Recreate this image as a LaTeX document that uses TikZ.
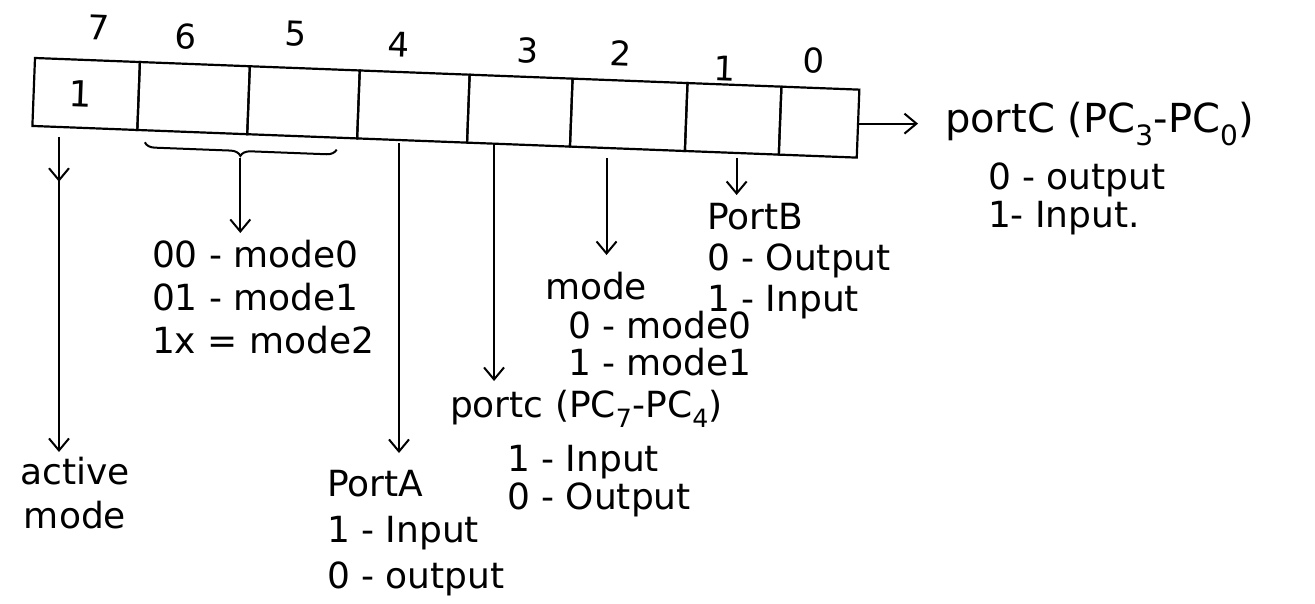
\documentclass[tikz,border=0pt]{standalone}
\usepackage{fontspec}
\setmainfont{DejaVu Sans}
\usetikzlibrary{arrows.meta,decorations.pathreplacing,decorations.markings,calc}

\begin{document}
\begin{tikzpicture}[x=1pt,y=-1pt,
  every node/.style={inner sep=0pt, outer sep=0pt},
  txt/.style={font=\fontsize{36}{44}\selectfont, align=left, anchor=north west},
  cell/.style={draw, line width=2.2pt, minimum height=68pt, anchor=north west,
               font=\fontsize{36}{44}\selectfont},
  bitno/.style={font=\fontsize{34}{40}\selectfont},
  tip/.style={-{Straight Barb[length=12pt,width=20pt]}},
  conn/.style={line width=2pt, tip},
  brc/.style={line width=2pt, decorate,
              decoration={brace, mirror, amplitude=10pt}},
  midtip/.style={postaction={decorate},
     decoration={markings, mark=at position 0.14 with
       {\arrow{Straight Barb[length=12pt,width=20pt]}}}}
  ]
\useasboundingbox (0,0) rectangle (1315,603);

% control word register, bits 7..0, drawn slightly tilted
\begin{scope}[shift={(35,58)}, rotate=-2.2, transform shape]
  \foreach \n/\l/\w/\dx/\dy in {7/0/105/10/-33, 6/105/110/-10/-27,
      5/215/110/-10/-34, 4/325/110/-17/-27, 3/435/103/6/-26,
      2/538/115/-10/-27, 1/653/94/-10/-16, 0/747/78/-8/-27}
  {
    \node[cell, minimum width=\w pt] (c\n) at (\l,0) {};
    \node[bitno] (n\n) at ({\l+\w/2+\dx},\dy) {\n};
  }
  \node[cell, draw=none, minimum width=105pt, xshift=-6pt] (one) at (0,0) {1};
  % group brace under bits 6 and 5
  \draw[brc] (113,80) -- (305,80);
  \coordinate (bt) at (209,92);
  % connector start points below the register
  \coordinate (s7) at (27,78);
  \coordinate (s4) at (367,71);
  \coordinate (s3) at (462,68);
  \coordinate (s2) at (575,78);
  \coordinate (s1) at (705,73);
\end{scope}

% descriptions
\node[txt, align=center, anchor=north] (act) at (75,457) {active\\mode};
\node[txt, font=\fontsize{36}{43}\selectfont] (modes) at (152,240)
  {00 - mode0\\01 - mode1\\1x = mode2};
\node[txt, font=\fontsize{36}{46}\selectfont] (pa) at (327,470)
  {PortA\\1 - Input\\0 - output};
\node[txt] (pc74) at (450,390)
  {portc (PC\textsubscript{7}-PC\textsubscript{4})};
\node[txt, font=\fontsize{36}{38}\selectfont] (pc74v) at (507,445)
  {1 - Input\\0 - Output};
\node[txt] (md) at (545,272) {mode};
\node[txt, font=\fontsize{36}{37}\selectfont] (mdv) at (568,311)
  {0 - mode0\\1 - mode1};
\node[txt, font=\fontsize{36}{41}\selectfont] (pb) at (707,203)
  {PortB\\0 - Output\\1 - Input};
\node[txt, anchor=west, font=\fontsize{40}{44}\selectfont] (pc30) at (945,124)
  {portC (PC\textsubscript{3}-PC\textsubscript{0})};
\node[txt, font=\fontsize{36}{38}\selectfont] (pc30v) at (988,163)
  {0 - output\\1- Input.};

% connectors
\draw[conn, midtip, shorten >=5pt] (s7) -- (s7 |- act.north);
\draw[conn, shorten >=7pt] (bt) -- (bt |- modes.north);
\draw[conn, shorten >=17pt] (s4) -- (s4 |- pa.north);
\draw[conn, shorten >=9pt] (s3) -- (s3 |- pc74.north);
\draw[conn, shorten >=17pt] (s2) -- (s2 |- md.north);
\draw[conn, shorten >=8pt] (s1) -- (s1 |- pb.north);
\draw[conn, shorten >=27pt] (c0.east) -- (c0.east -| pc30.west);
\end{tikzpicture}
\end{document}
